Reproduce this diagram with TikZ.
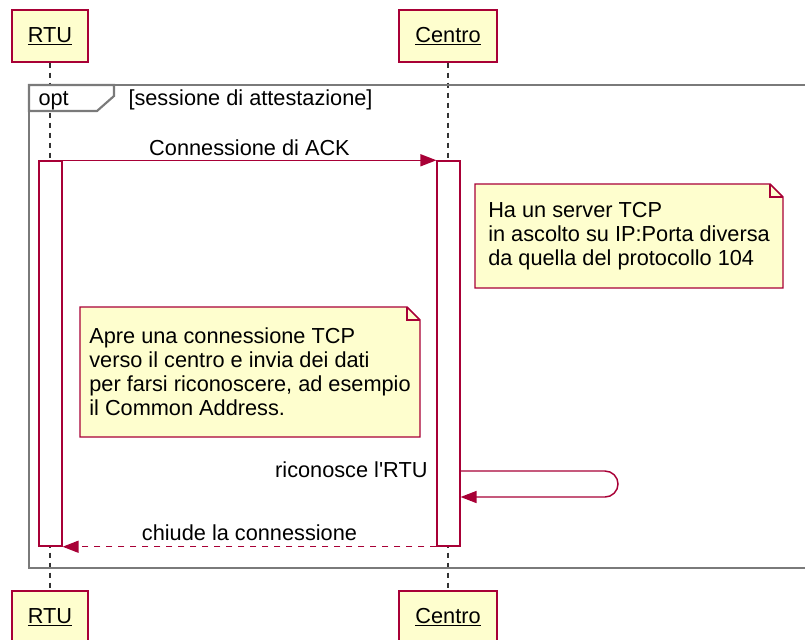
\documentclass[tikz,border=0pt]{standalone}
\usepackage{fontspec}
\setmainfont{Liberation Sans}
\usetikzlibrary{arrows.meta,backgrounds,calc}

\definecolor{umlred}{HTML}{A80036}
\definecolor{umlfill}{HTML}{FEFECE}
\definecolor{umlgrey}{HTML}{7A7A7A}

\tikzset{every picture/.style={line width=0.75pt}}
\tikzset{
  part/.style={draw=umlred, fill=umlfill, line width=1.1pt, minimum height=39pt, inner sep=0pt},
  life/.style={draw=black!80, line width=1pt, dash pattern=on 4pt off 3.5pt},
  frame/.style={draw=umlgrey, line width=1.6pt},
  act/.style={draw=umlred, fill=white, line width=1.1pt, minimum width=17pt, minimum height=288.75pt, inner sep=0pt},
  msg/.style={draw=umlred, line width=1.1pt, -{Triangle[length=12pt,width=9pt]}},
  retmsg/.style={msg, dash pattern=on 5pt off 4pt},
  notebd/.style={draw=umlred, fill=umlfill, line width=1.1pt},
  note/.style={align=left, inner sep=0pt},
  lbl/.style={inner sep=0pt}
}

\begin{document}
\begin{tikzpicture}[x=0.75pt,y=0.75pt,yscale=-1,xscale=1,font=\fontsize{16.3}{18}\selectfont]
\useasboundingbox (0,0) rectangle (805,639);

%Participants
\node[part, minimum width=57pt] (rtuTop) at (50,36) {\underline{RTU}};
\node[part, minimum width=73.5pt] (centroTop) at (448,36) {\underline{Centro}};
\node[part, minimum width=57pt] (rtuBot) at (50,617) {\underline{RTU}};
\node[part, minimum width=73.5pt] (centroBot) at (448,617) {\underline{Centro}};

%Lifelines
\draw[life] (rtuTop) -- (rtuBot);
\draw[life] (centroTop) -- (centroBot);

%Frame opt
\draw[frame] (29,85) rectangle (830,568);
\filldraw[frame, fill=white] (29,85) -- (29,111) -- (97,111) -- (114,96) -- (114,85) -- cycle;
\node[lbl, anchor=base west] (optLbl) at (38,105) {opt};
\node[lbl, anchor=base west] (guardLbl) at (128,105) {[sessione di attestazione]};

%Activations
\node[act] (actRtu) at (50.5,353.5) {};
\node[act] (actCentro) at (448.5,353.5) {};

%Messages
\draw[msg] (actRtu.north east) -- (actCentro.north west) node[midway, above, inner sep=3pt] (ackLbl) {Connessione di ACK};
\coordinate (selfOut) at (618,471);
\coordinate (selfBack) at (618,497);
\draw[msg, rounded corners=9.75pt] (actCentro.east |- selfOut) -- (selfOut) -- (selfBack) -- (actCentro.east |- selfBack);
\node[lbl, anchor=base east] (selfLbl) at (428,477) {riconosce l\textquotesingle RTU};
\draw[retmsg] (actCentro.south west) -- (actRtu.south east) node[midway, above, inner sep=4pt] (closeLbl) {chiude la connessione};

%Notes
\node[note, minimum width=230.25pt, minimum height=77.25pt, anchor=north west] (noteCentro) at (475,184)
  {Ha un server TCP\\in ascolto su IP:Porta diversa\\da quella del protocollo 104};
\node[note, minimum width=254.25pt, minimum height=96.75pt, anchor=north west] (noteRtu) at (80,307)
  {Apre una connessione TCP\\verso il centro e invia dei dati\\per farsi riconoscere, ad esempio\\il Common Address.};

\begin{scope}[on background layer]
\foreach \n in {noteCentro,noteRtu}{
  \filldraw[notebd] (\n.south west) -- (\n.north west) -- ($(\n.north east)+(-13,0)$) -- ($(\n.north east)+(0,13)$) -- (\n.south east) -- cycle;
  \draw[notebd, fill=none] ($(\n.north east)+(-13,0)$) |- ($(\n.north east)+(0,13)$);
}
\end{scope}

\end{tikzpicture}
\end{document}
